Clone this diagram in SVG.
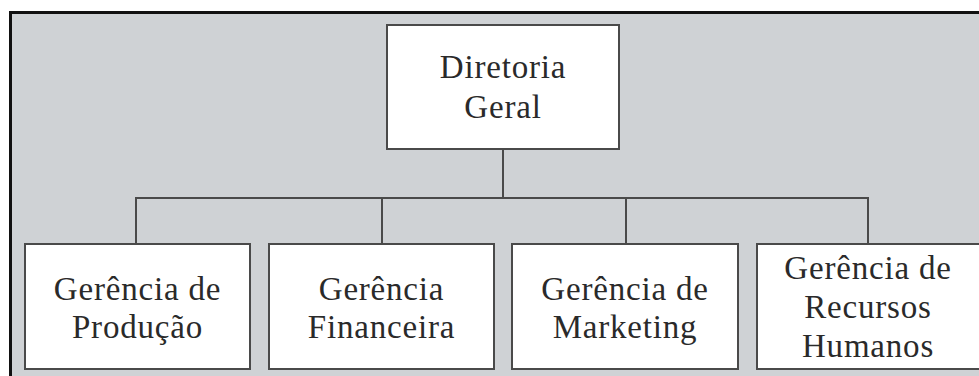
<svg xmlns="http://www.w3.org/2000/svg" width="979" height="376" viewBox="0 0 979 376">
<style>
.box{fill:#ffffff;stroke:#4a4a4a;stroke-width:2}
.lbl{font-family:"Liberation Serif","Times New Roman",serif;font-size:33px;fill:#2a2a2a;text-anchor:middle;letter-spacing:0.8px}
.con{fill:none;stroke:#4a4a4a;stroke-width:2}
</style>
<rect x="0" y="0" width="979" height="376" fill="#ffffff"/>
<rect x="10.5" y="12.5" width="980" height="380" fill="#cfd2d5" stroke="#111111" stroke-width="3"/>
<g id="connectors">
<path class="con" d="M503 149 V198 M136 244 V198 H868 V244 M382 198 V244 M626 198 V244"/>
</g>
<g id="diretoria">
<rect class="box" x="387" y="25" width="232" height="124"/>
<text class="lbl" x="503" y="78">Diretoria</text>
<text class="lbl" x="503" y="118">Geral</text>
</g>
<g id="producao">
<rect class="box" x="25" y="244" width="225" height="125"/>
<text class="lbl" x="137.5" y="300">Gerência de</text>
<text class="lbl" x="137.5" y="338">Produção</text>
</g>
<g id="financeira">
<rect class="box" x="269" y="244" width="225" height="125"/>
<text class="lbl" x="381.5" y="300">Gerência</text>
<text class="lbl" x="381.5" y="338">Financeira</text>
</g>
<g id="marketing">
<rect class="box" x="512" y="244" width="226" height="125"/>
<text class="lbl" x="625" y="300">Gerência de</text>
<text class="lbl" x="625" y="338">Marketing</text>
</g>
<g id="rh">
<rect class="box" x="757" y="244" width="224" height="125"/>
<text class="lbl" x="868" y="279">Gerência de</text>
<text class="lbl" x="868" y="318">Recursos</text>
<text class="lbl" x="868" y="357">Humanos</text>
</g>
</svg>
